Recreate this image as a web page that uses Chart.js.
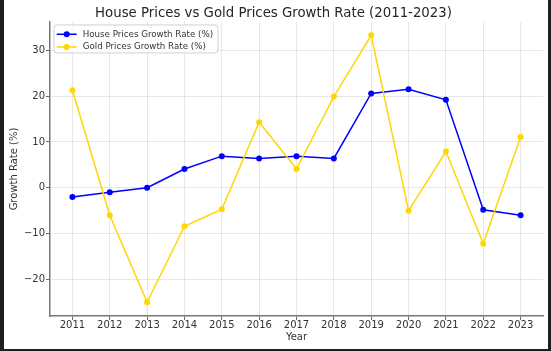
<!DOCTYPE html>
<html>
<head>
<meta charset="utf-8">
<script src="https://cdn.jsdelivr.net/npm/chart.js@4.4.1/dist/chart.umd.min.js"></script>
<style>
  html, body { margin: 0; padding: 0; background: #1e1e1e; width: 551px; height: 351px; overflow: hidden; }
  #frame { position: absolute; left: 4px; top: 0; width: 544px; height: 349px; background: #ffffff; }
</style>
</head>
<body>
<div id="frame"><canvas id="chart" width="544" height="349"></canvas></div>
<script>
const years = [2011, 2012, 2013, 2014, 2015, 2016, 2017, 2018, 2019, 2020, 2021, 2022, 2023];
const houseGrowth = [-2.0, -1.0, 0.0, 4.1, 6.9, 6.4, 6.9, 6.4, 20.6, 21.5, 19.2, -4.8, -6.0];
const goldGrowth = [21.3, -6.0, -25.0, -8.4, -4.7, 14.3, 4.1, 19.9, 33.3, -5.0, 7.9, -12.2, 11.1];
const yTicks = [-20, -10, 0, 10, 20, 30];

const FONT = "'DejaVu Sans', sans-serif";
const gridStyle = {
    color: 'rgba(0,0,0,0.12)',
    lineWidth: 0.8,
    borderDash: [3, 2],
    tickColor: '#666',
    tickLength: 4,
    tickWidth: 1,
    tickBorderDash: []
};

// legend drawn inside the plot, top-left, like matplotlib
const innerLegend = {
    id: 'innerLegend',
    afterDraw: function(chart) {
        const ctx = chart.ctx;
        const a = chart.chartArea;
        const x = a.left + 4, y = a.top + 3, w = 164, h = 28;
        ctx.save();
        ctx.beginPath();
        ctx.roundRect(x, y, w, h, 3);
        ctx.fillStyle = 'rgba(255,255,255,0.8)';
        ctx.fill();
        ctx.strokeStyle = '#d0d0d0';
        ctx.lineWidth = 1;
        ctx.stroke();
        ctx.font = '8.7px ' + FONT;
        ctx.textBaseline = 'middle';
        chart.data.datasets.forEach(function(ds, i) {
            const ry = y + 9.3 + i * 12.7;
            ctx.strokeStyle = ds.borderColor;
            ctx.lineWidth = 1.5;
            ctx.beginPath();
            ctx.moveTo(x + 2.7, ry);
            ctx.lineTo(x + 22.7, ry);
            ctx.stroke();
            ctx.fillStyle = ds.borderColor;
            ctx.beginPath();
            ctx.arc(x + 12.7, ry, 3, 0, Math.PI * 2);
            ctx.fill();
            ctx.fillStyle = '#333';
            ctx.fillText(ds.label, x + 28.7, ry);
        });
        ctx.restore();
    }
};

new Chart(document.getElementById('chart').getContext('2d'), {
    type: 'line',
    data: {
        datasets: [{
            label: 'House Prices Growth Rate (%)',
            data: years.map((yr, i) => ({ x: yr, y: houseGrowth[i] })),
            borderColor: '#0000ff',
            backgroundColor: '#0000ff',
            borderWidth: 1.5,
            pointRadius: 3,
            pointBorderWidth: 0,
            tension: 0,
            order: 1
        }, {
            label: 'Gold Prices Growth Rate (%)',
            data: years.map((yr, i) => ({ x: yr, y: goldGrowth[i] })),
            borderColor: '#ffd700',
            backgroundColor: '#ffd700',
            borderWidth: 1.5,
            pointRadius: 3,
            pointBorderWidth: 0,
            tension: 0,
            order: 0
        }]
    },
    options: {
        responsive: false,
        animation: false,
        devicePixelRatio: 1,
        layout: { padding: { left: 0, right: 5, top: 0, bottom: 0 } },
        plugins: {
            legend: { display: false },
            tooltip: { enabled: false },
            title: {
                display: true,
                text: 'House Prices vs Gold Prices Growth Rate (2011-2023)',
                color: '#262626',
                font: { family: FONT, size: 13.3, weight: 'normal' },
                padding: { top: 6, bottom: 0 }
            }
        },
        scales: {
            x: {
                type: 'linear',
                min: 2010.4,
                max: 2023.6,
                afterBuildTicks: function(scale) {
                    scale.ticks = years.map(v => ({ value: v }));
                },
                afterFit: function(scale) { scale.height = 33; },
                grid: gridStyle,
                border: { display: true, color: '#777', width: 1.5 },
                ticks: {
                    color: '#333',
                    padding: 0,
                    maxRotation: 0,
                    autoSkip: false,
                    font: { family: FONT, size: 10, lineHeight: 1 },
                    callback: v => String(v)
                },
                title: {
                    display: true,
                    text: 'Year',
                    color: '#333',
                    font: { family: FONT, size: 10 },
                    padding: { top: 0, bottom: 6 }
                }
            },
            y: {
                min: -28,
                max: 36.2,
                afterBuildTicks: function(scale) {
                    scale.ticks = yTicks.map(v => ({ value: v }));
                },
                afterFit: function(scale) { scale.width = 46; },
                grid: gridStyle,
                border: { display: true, color: '#777', width: 1.5 },
                ticks: {
                    color: '#333',
                    padding: 1,
                    font: { family: FONT, size: 10 },
                    callback: v => (v < 0 ? '\u2212' + Math.abs(v) : String(v))
                },
                title: {
                    display: true,
                    text: 'Growth Rate (%)',
                    color: '#333',
                    font: { family: FONT, size: 10 },
                    padding: { top: 4, bottom: 0 }
                }
            }
        }
    },
    plugins: [innerLegend]
});
</script>
</body>
</html>
